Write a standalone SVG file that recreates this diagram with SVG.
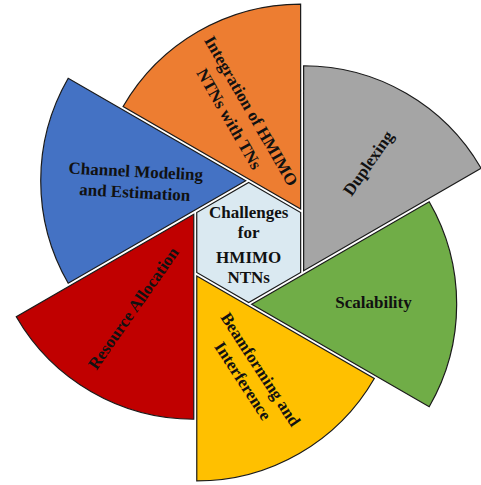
<svg xmlns="http://www.w3.org/2000/svg" width="481" height="485" viewBox="0 0 481 485">
<style>
.sec{stroke:#1a1a1a;stroke-width:1.2;stroke-linejoin:miter}
.t{font-family:"Liberation Serif","Times New Roman",serif;font-weight:bold;font-size:17px;fill:#111;text-anchor:middle}
</style>
<rect width="481" height="485" fill="#fff"/>
<g id="connectors"/>
<g id="integration">
<path class="sec" fill="#ED7D31" d="M300.63,209.05 L123.1,106.5 A205,205 0 0 1 300.63,4.05 Z"/>
<g transform="translate(240,115) rotate(60)">
<text class="t" x="2" y="-6">Integration of HMIMO</text>
<text class="t" x="-2" y="17">NTNs with TNs</text>
</g>
</g>
<g id="duplexing">
<path class="sec" fill="#A5A5A5" d="M303.63,270.75 L303.63,65.75 A205,205 0 0 1 481.1,168.25 Z"/>
<text class="t" transform="translate(368,163) rotate(-55)" x="0" y="6">Duplexing</text>
</g>
<g id="scalability">
<path class="sec" fill="#70AD47" d="M251.7,304.2 L429.2,201.7 A205,205 0 0 1 429.2,406.7 Z"/>
<text class="t" x="373.5" y="308">Scalability</text>
</g>
<g id="beamforming">
<path class="sec" fill="#FFC000" d="M196.77,275.95 L374.3,378.45 A205,205 0 0 1 196.77,480.95 Z"/>
<g transform="translate(252,375) rotate(57)">
<text class="t" x="0" y="-4.5">Beamforming and</text>
<text class="t" x="0" y="16.5">Interference</text>
</g>
</g>
<g id="resource">
<path class="sec" fill="#C00000" d="M193.77,214.25 L193.77,419.25 A205,205 0 0 1 16.27,316.75 Z"/>
<text class="t" transform="translate(133,308) rotate(-55)" x="0" y="6">Resource Allocation</text>
</g>
<g id="channel">
<path class="sec" fill="#4472C4" d="M245.7,180.8 L68.2,283.3 A205,205 0 0 1 68.2,78.3 Z"/>
<g transform="translate(135,187) rotate(3)">
<text class="t" x="0" y="-10">Channel Modeling</text>
<text class="t" x="0" y="11">and Estimation</text>
</g>
</g>
<g id="center">
<polygon class="sec" fill="#DAE9F1" points="248.7,182.5 300.66,212.5 300.66,272.5 248.7,302.5 196.74,272.5 196.74,212.5"/>
<text class="t" x="248.7" y="218">Challenges</text>
<text class="t" x="248.7" y="238">for</text>
<text class="t" x="248.7" y="263">HMIMO</text>
<text class="t" x="248.7" y="283">NTNs</text>
</g>
</svg>
